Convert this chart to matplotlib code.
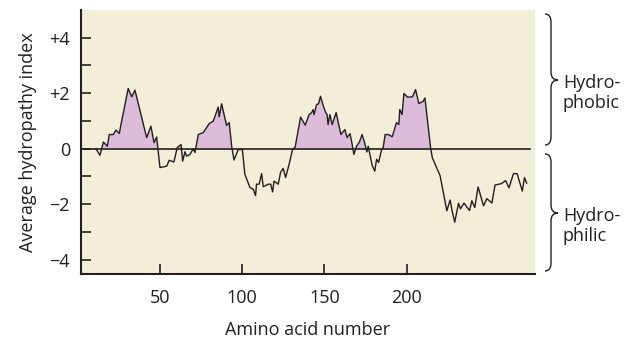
import numpy as np
import matplotlib
matplotlib.use('Agg')
import matplotlib.pyplot as plt
from matplotlib.path import Path
from matplotlib.patches import PathPatch

plt.rcParams['font.family'] = ['Open Sans', 'DejaVu Sans']

# amino acid position and hydropathy index
residue = [11.1, 13.5, 15.6, 18.0, 19.2, 21.6, 23.3, 25.3, 26.1, 30.7,
           32.8, 34.8, 41.9, 44.5, 46.4, 48.0, 50.0, 54.1, 55.6, 58.5,
           60.5, 62.8, 63.8, 65.2, 66.2, 68.2, 70.2, 71.3, 73.3, 76.3,
           80.0, 82.4, 85.4, 86.0, 87.5, 90.5, 92.1, 93.6, 95.0, 97.6,
           100.1, 101.6, 104.7, 106.7, 108.1, 108.7, 110.3, 111.8, 112.8, 115.8,
           117.3, 118.5, 119.3, 121.9, 123.3, 124.9, 126.4, 128.6, 130.6, 132.2,
           135.5, 138.3, 140.7, 142.2, 143.1, 143.7, 145.2, 146.4, 147.6, 149.2,
           150.8, 151.6, 152.2, 153.3, 154.7, 157.1, 160.0, 162.4, 163.8, 165.5,
           166.5, 167.9, 169.5, 171.1, 172.9, 174.4, 175.8, 176.6, 178.2, 179.0,
           180.6, 181.7, 182.9, 184.7, 185.7, 186.9, 189.0, 191.2, 193.8, 195.2,
           195.8, 197.2, 198.3, 200.5, 203.5, 205.4, 207.4, 210.0, 211.1, 214.5,
           215.6, 220.3, 224.4, 226.4, 227.6, 229.2, 231.5, 232.7, 234.8, 238.2,
           239.6, 241.4, 243.4, 246.7, 248.7, 251.8, 253.7, 257.6, 260.1, 262.2,
           264.9, 267.1, 270.3, 271.6, 272.9]
hydropathy = [0.00, -0.24, 0.24, 0.09, 0.51, 0.51, 0.67, 0.55, 0.81, 2.17,
              1.87, 2.11, 0.40, 0.81, 0.22, 0.42, -0.68, -0.63, -0.42, -0.48,
              0.04, 0.15, -0.45, -0.11, -0.27, -0.21, 0.00, -0.14, 0.51, 0.58,
              0.91, 0.99, 1.50, 1.15, 1.62, 0.84, 0.94, 0.09, -0.41, -0.03,
              -0.03, -0.92, -1.40, -1.46, -1.69, -1.28, -1.28, -0.90, -1.37, -1.28,
              -1.28, -1.56, -1.17, -1.28, -0.86, -0.71, -1.04, -0.54, -0.03, 0.06,
              1.14, 0.85, 1.23, 1.30, 1.41, 1.23, 1.59, 1.62, 1.89, 1.56,
              1.30, 1.23, 0.87, 1.23, 0.87, 1.30, 0.51, 0.69, 0.40, 0.54,
              0.27, -0.21, 0.09, 0.22, 0.51, 0.22, -0.12, 0.09, -0.38, -0.60,
              -0.81, -0.38, -0.50, -0.05, 0.04, 0.51, 0.51, 0.43, 0.94, 0.87,
              1.41, 1.23, 1.99, 1.86, 1.87, 2.13, 1.63, 1.71, 1.83, 0.04,
              -0.33, -0.97, -2.24, -1.85, -2.24, -2.65, -1.97, -2.17, -1.96, -2.23,
              -1.88, -2.12, -1.38, -2.06, -1.80, -1.96, -1.31, -1.26, -1.15, -1.41,
              -0.90, -0.90, -1.53, -1.04, -1.24]

x_ticks = [50, 100, 150, 200]
y_ticks = [-4, -2, 0, 2, 4]
y_tick_labels = ['\u22124', '\u22122', '0', '+2', '+4']

dark = '#231f20'
bg = '#f3eed7'
purple = '#dbbcdb'
fs = 13

fig = plt.figure(figsize=(6.28, 3.41), dpi=100)
ax = fig.add_axes([81 / 628, 1 - 273.5 / 341, 454 / 628, 263.5 / 341])
ax.set_facecolor(bg)

x = np.array(residue)
y = np.array(hydropathy)
ax.fill_between(x, y, 0, where=y > 0, interpolate=True, color=purple, lw=0)
ax.axhline(0, xmax=0.99, color=dark, lw=1.2)
ax.plot(x, y, color=dark, lw=1.0)

ax.set_xlim(2, 278)
ax.set_ylim(-4.5, 5)
ax.set_xticks(x_ticks)
ax.set_yticks(y_ticks)
ax.set_yticklabels(y_tick_labels)
ax.set_yticks([-3, -1, 1, 3], minor=True)
ax.tick_params(which='both', direction='in', length=7, width=1.2, color=dark,
               labelsize=fs, labelcolor=dark)
ax.tick_params(axis='y', pad=8)
ax.tick_params(axis='x', pad=11)

for s in ['top', 'right']:
    ax.spines[s].set_visible(False)
for s in ['left', 'bottom']:
    ax.spines[s].set_color(dark)
    ax.spines[s].set_linewidth(1.5)

ax.set_xlabel('Amino acid number', fontsize=fs, color=dark, labelpad=10)
ax.set_ylabel('Average hydropathy index', fontsize=fs, color=dark, labelpad=9)


# curly brace on the right, in figure pixels
def brace(x0, xm, xt, ytop, ymid, ybot, r=8):
    W, H = 628.0, 341.0
    pts = [(x0, ytop), (xm, ytop), (xm, ytop + r),
           (xm, ymid - r), (xm, ymid), (xt, ymid),
           (xm, ymid), (xm, ymid + r),
           (xm, ybot - r), (xm, ybot), (x0, ybot)]
    codes = [Path.MOVETO, Path.CURVE3, Path.CURVE3,
             Path.LINETO, Path.CURVE3, Path.CURVE3,
             Path.CURVE3, Path.CURVE3,
             Path.LINETO, Path.CURVE3, Path.CURVE3]
    verts = [(px / W, 1 - py / H) for px, py in pts]
    patch = PathPatch(Path(verts, codes), transform=fig.transFigure,
                      fill=False, edgecolor=dark, lw=1.0)
    fig.patches.append(patch)


brace(545, 551, 558, 14, 80, 145)
brace(545, 551, 558, 154, 213, 271)
fig.text(563 / 628, 1 - 93 / 341, 'Hydro-\nphobic', fontsize=fs, color=dark,
         va='center', ha='left', linespacing=1.1)
fig.text(563 / 628, 1 - 226 / 341, 'Hydro-\nphilic', fontsize=fs, color=dark,
         va='center', ha='left', linespacing=1.1)

fig.savefig('out.png', dpi=100, facecolor='white')
